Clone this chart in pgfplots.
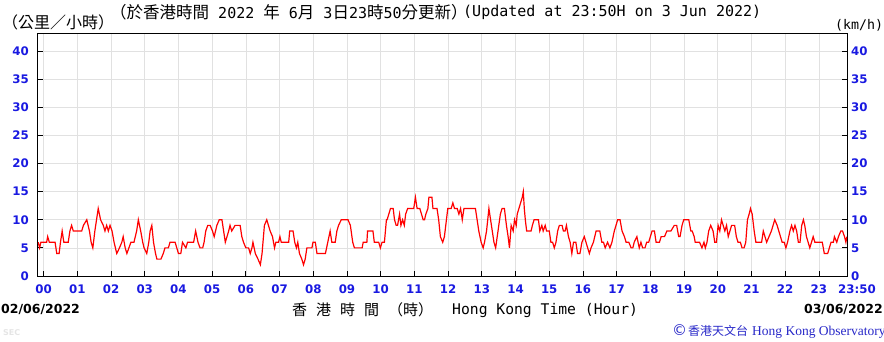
\documentclass[border=0pt]{standalone}
\usepackage{fontspec}
\usepackage{pgfplots}
\pgfplotsset{compat=1.18}
\newfontfamily\tickfont{DejaVu Sans}
\newfontfamily\monofont{DejaVu Sans Mono}
\newfontfamily\cjk{Noto Sans CJK TC}
\newfontfamily\seriffont{Liberation Serif}
\definecolor{tickblue}{RGB}{25,25,225}
\definecolor{hkoblue}{RGB}{40,40,200}
\definecolor{gridgray}{RGB}{225,225,225}
\begin{document}
\begin{tikzpicture}
\useasboundingbox (-38pt,-65pt) rectangle (846pt,276pt);
\begin{axis}[
  at={(0pt,0pt)}, anchor=south west,
  scale only axis, width=809pt, height=243pt,
  xmin=-0.1667, xmax=23.8333, ymin=0, ymax=43.2,
  axis line style={line width=1pt},
  tick align=inside, major tick length=5pt,
  xtick={0,...,23},
  xticklabels={00,01,02,03,04,05,06,07,08,09,10,11,12,13,14,15,16,17,18,19,20,21,22,23},
  extra x ticks={23.8333}, extra x tick labels={23:50},
  extra x tick style={grid=none, major tick length=0pt, xticklabel style={xshift=10pt}},
  ytick={0,5,...,40},
  xtick pos=lower, ytick pos=both, yticklabel pos=left,
  grid=major, major grid style={draw=gridgray, line width=0.7pt},
  tick style={black, line width=0.8pt},
  tick label style={font=\tickfont\bfseries\fontsize{11.8}{12}\selectfont, text=tickblue},
  /pgf/number format/assume math mode=true,
  yticklabel style={inner sep=0pt, xshift=-9pt},
  xticklabel style={inner sep=0pt, yshift=-9pt},
]
\addplot[red, line width=1.2pt] coordinates {
(-0.16,6) (-0.12,5) (-0.08,6) (0.09,6) (0.12,7) (0.17,6) (0.34,6) (0.39,4) (0.46,4) (0.50,6) (0.55,8) (0.60,6) (0.73,6) (0.78,8) (0.83,9) (0.88,8) (1.13,8) (1.18,9) (1.28,10) (1.36,8) (1.41,6) (1.46,5) (1.52,8) (1.62,12) (1.69,10) (1.77,9) (1.82,8) (1.87,9) (1.92,8) (1.97,9) (2.03,8) (2.09,6) (2.17,4) (2.25,5) (2.32,6) (2.36,7) (2.42,5) (2.47,4) (2.53,5) (2.59,6) (2.68,6) (2.76,8) (2.81,10) (2.88,8) (2.94,6) (2.98,5) (3.06,4) (3.12,6) (3.16,8) (3.21,9) (3.26,6) (3.32,4) (3.36,3) (3.48,3) (3.55,4) (3.60,5) (3.70,5) (3.75,6) (3.90,6) (3.95,5) (4.00,4) (4.07,4) (4.12,6) (4.22,5) (4.27,6) (4.45,6) (4.51,8) (4.58,6) (4.64,5) (4.72,5) (4.76,6)
(4.81,8) (4.87,9) (4.94,9) (5.01,8) (5.06,7) (5.14,9) (5.21,10) (5.29,10) (5.34,8) (5.39,6) (5.44,7) (5.49,8) (5.53,9) (5.58,8) (5.68,9) (5.83,9) (5.88,7) (5.93,6) (6.00,5) (6.08,5) (6.13,4) (6.18,5) (6.21,6) (6.28,4) (6.36,3) (6.43,2) (6.48,4) (6.55,9) (6.62,10) (6.67,9) (6.72,8) (6.79,7) (6.85,5) (6.89,6) (6.97,6) (7.01,7) (7.05,6) (7.27,6) (7.30,8) (7.40,8) (7.45,6) (7.50,5) (7.54,6) (7.59,4) (7.66,3) (7.71,2) (7.76,3) (7.81,5) (7.96,5) (7.99,6) (8.06,6) (8.11,4) (8.16,4) (8.36,4) (8.43,6) (8.50,8) (8.55,6) (8.65,6) (8.70,8) (8.75,9) (8.83,10) (9.03,10) (9.10,9) (9.17,6) (9.22,5)
(9.40,5) (9.45,5) (9.48,6) (9.59,6) (9.61,8) (9.77,8) (9.81,6) (9.94,6) (9.99,5) (10.04,6) (10.11,6) (10.17,10) (10.19,10) (10.24,11) (10.29,12) (10.37,12) (10.41,10) (10.46,9) (10.50,9) (10.56,11) (10.60,9) (10.65,10) (10.70,9) (10.74,11) (10.80,12) (10.98,12) (11.03,14) (11.08,12) (11.16,12) (11.21,11) (11.26,10) (11.30,10) (11.34,11) (11.40,12) (11.43,14) (11.52,14) (11.55,12) (11.67,12) (11.72,10) (11.77,7) (11.84,6) (11.89,7) (11.95,10) (11.99,12) (12.09,12) (12.14,13) (12.19,12) (12.27,12) (12.32,11) (12.37,12) (12.42,10) (12.47,12) (12.81,12) (12.86,10) (12.91,8) (12.98,6) (13.04,5) (13.08,6) (13.14,8) (13.21,12) (13.26,10) (13.31,8) (13.36,6) (13.41,5) (13.48,8) (13.55,11) (13.60,12) (13.67,12) (13.73,9) (13.78,7) (13.82,5) (13.87,9) (13.93,8) (13.97,10) (14.02,9) (14.05,11) (14.10,12) (14.15,13) (14.20,14) (14.23,15)
(14.26,12) (14.29,10) (14.33,8) (14.46,8) (14.50,9) (14.55,10) (14.68,10) (14.72,8) (14.78,9) (14.82,8) (14.88,9) (14.92,8) (15.00,8) (15.05,6) (15.10,6) (15.15,5) (15.20,6) (15.25,8) (15.30,9) (15.38,9) (15.42,8) (15.47,8) (15.51,9) (15.57,7) (15.62,6) (15.67,4) (15.72,6) (15.79,6) (15.84,4) (15.91,4) (15.97,6) (16.04,7) (16.09,6) (16.14,5) (16.19,4) (16.24,5) (16.31,6) (16.39,8) (16.50,8) (16.56,6) (16.61,6) (16.66,5) (16.73,6) (16.80,5) (16.86,6) (16.93,8) (16.98,9) (17.03,10) (17.10,10) (17.16,8) (17.23,7) (17.28,6) (17.36,6) (17.43,5) (17.48,5) (17.52,6) (17.60,7) (17.67,5) (17.72,6) (17.77,5) (17.84,5) (17.89,6) (17.95,6) (18.00,7) (18.05,8) (18.12,8) (18.17,6) (18.27,6) (18.32,7) (18.42,7) (18.49,8) (18.61,8) (18.71,9) (18.78,9) (18.84,7) (18.88,7) (18.94,9) (18.99,10)
(19.07,10) (19.14,10) (19.20,8) (19.24,8) (19.30,7) (19.33,6) (19.46,6) (19.53,5) (19.59,6) (19.63,5) (19.68,6) (19.73,8) (19.79,9) (19.86,8) (19.91,6) (19.96,6) (20.01,9) (20.06,8) (20.11,10) (20.16,9) (20.21,8) (20.26,9) (20.31,7) (20.36,8) (20.41,9) (20.50,9) (20.55,7) (20.60,6) (20.67,6) (20.72,5) (20.78,5) (20.83,6) (20.88,10) (20.93,11) (20.97,12) (21.02,11) (21.08,8) (21.13,6) (21.30,6) (21.35,8) (21.40,7) (21.45,6) (21.52,7) (21.59,8) (21.64,9) (21.69,10) (21.76,9) (21.81,8) (21.86,7) (21.91,6) (21.97,6) (22.02,5) (22.07,6) (22.14,8) (22.19,9) (22.24,8) (22.29,9) (22.34,8) (22.39,6) (22.44,6) (22.49,9) (22.54,10) (22.58,9) (22.63,7) (22.68,6) (22.73,5) (22.78,6) (22.83,7) (22.88,6) (23.10,6) (23.16,4) (23.26,4) (23.31,5) (23.36,6) (23.43,6) (23.46,7) (23.53,6) (23.58,7) (23.65,8) (23.70,8) (23.76,7) (23.80,6) (23.83,7)
};
\end{axis}
\begin{axis}[
  at={(0pt,0pt)}, anchor=south west,
  scale only axis, width=809pt, height=243pt,
  xmin=-0.1667, xmax=23.8333, ymin=0, ymax=43.2,
  hide x axis, axis y line*=right, axis line style={draw=none},
  ytick={0,5,...,40}, ytick style={draw=none},
  tick label style={font=\tickfont\bfseries\fontsize{11.8}{12}\selectfont, text=tickblue},
  /pgf/number format/assume math mode=true,
  yticklabel style={inner sep=0pt, xshift=4pt, anchor=west},
]
\addplot[draw=none] coordinates {(0,0)};
\end{axis}
% titles
\node[anchor=west, inner sep=0pt] at (-36pt,254pt) {\cjk\fontsize{16}{16}\selectfont （公里／小時）};
\node[anchor=west, inner sep=0pt] at (72pt,264pt) {\cjk\fontsize{16.5}{17}\selectfont （於香港時間{\monofont\fontsize{15}{16}\selectfont\ 2022 }年{\monofont\fontsize{15}{16}\selectfont\ 6}月{\monofont\fontsize{15}{16}\selectfont\ 3}日{\monofont\fontsize{15}{16}\selectfont 23}時{\monofont\fontsize{15}{16}\selectfont 50}分更新）};
\node[anchor=west, inner sep=0pt] at (425pt,264pt) {\monofont\fontsize{15}{16}\selectfont (Updated at 23:50H on 3 Jun 2022)};
\node[anchor=west, inner sep=0pt] at (797pt,251pt) {\monofont\fontsize{13.3}{14}\selectfont (km/h)};
% bottom
\node[anchor=west, inner sep=0pt] at (-37pt,-33pt) {\tickfont\bfseries\fontsize{12.5}{13}\selectfont 02/06/2022};
\node[anchor=east, inner sep=0pt] at (845pt,-33pt) {\tickfont\bfseries\fontsize{12.5}{13}\selectfont 03/06/2022};
\node[anchor=west, inner sep=0pt] at (254pt,-34pt) {\cjk\fontsize{15}{16}\selectfont 香\hspace{9pt}港\hspace{9pt}時\hspace{9pt}間\hspace{9pt}（時）};
\node[anchor=west, inner sep=0pt] at (414pt,-34pt) {\monofont\fontsize{14.7}{16}\selectfont Hong Kong Time (Hour)};
\node[anchor=west, inner sep=0pt, text=hkoblue] at (634pt,-56pt) {{\tickfont\fontsize{15}{16}\selectfont ©}\hspace{1pt}{\cjk\fontsize{12}{14}\selectfont 香港天文台}\hspace{4pt}{\seriffont\fontsize{13.5}{14}\selectfont Hong Kong Observatory}};
\node[anchor=west, inner sep=0pt, text=gray!20] at (-35pt,-57pt) {\tickfont\bfseries\fontsize{8}{9}\selectfont SEC};
\end{tikzpicture}
\end{document}
